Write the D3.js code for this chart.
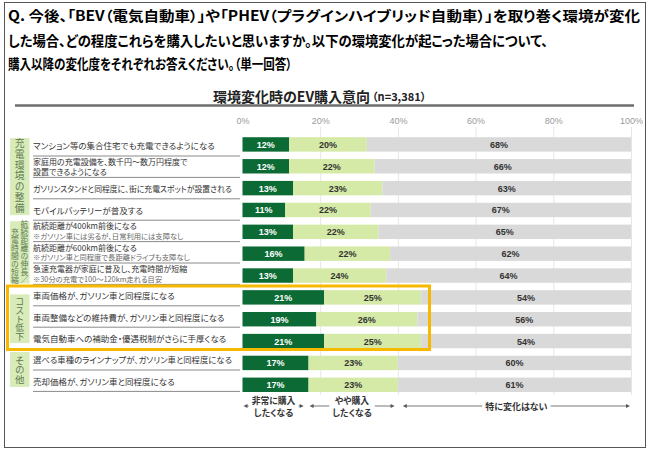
<!DOCTYPE html>
<html><head><meta charset="utf-8">
<script src="https://cdn.jsdelivr.net/npm/d3@7"></script>
<style>
body{margin:0;background:#fff}
svg text{font-family:"Noto Sans CJK JP","Noto Sans",sans-serif;font-feature-settings:"palt" 1}
svg text.num{font-family:"Liberation Sans",Arial,sans-serif;font-feature-settings:normal}
svg text.vert{writing-mode:vertical-rl;font-feature-settings:normal}
</style></head><body>
<svg id="c" width="650" height="455"></svg>
<script>
// ---------- data ----------
const questionLines = [
  "Q. 今後、「BEV（電気自動車）」や「PHEV（プラグインハイブリッド自動車）」を取り巻く環境が変化",
  "した場合、どの程度これらを購入したいと思いますか。以下の環境変化が起こった場合について、",
  "購入以降の変化度をそれぞれお答えください。（単一回答）"
];
const chartTitle = "環境変化時のEV購入意向";
const sampleNote = "（n=3,381）";
const categories = [
  ["マンション等の集合住宅でも充電できるようになる"],
  ["家庭用の充電設備を、数千円～数万円程度で","設置できるようになる"],
  ["ガソリンスタンドと同程度に、街に充電スポットが設置される"],
  ["モバイルバッテリーが普及する"],
  ["航続距離が400km前後になる","※ガソリン車には劣るが、日常利用には支障なし"],
  ["航続距離が600km前後になる","※ガソリン車と同程度で長距離ドライブも支障なし"],
  ["急速充電器が家庭に普及し、充電時間が短縮","※30分の充電で100～120km走れる目安"],
  ["車両価格が、ガソリン車と同程度になる"],
  ["車両整備などの維持費が、ガソリン車と同程度になる"],
  ["電気自動車への補助金・優遇税制がさらに手厚くなる"],
  ["選べる車種のラインナップが、ガソリン車と同程度になる"],
  ["売却価格が、ガソリン車と同程度になる"]
];
const seriesNames = ["非常に購入したくなる","やや購入したくなる","特に変化はない"];
const veryLikely     = [12,12,13,11,13,16,13,21,19,21,17,17];
const somewhatLikely = [20,22,23,22,22,22,24,25,26,25,23,23];
const noChange       = [68,66,63,67,65,62,64,54,56,54,60,61];
const groupNames = [["充電環境の整備"],["航続距離の伸長／","充電時間の短縮"],["コスト低下"],["その他"]];
const groupFirst = [0,4,7,10];
const groupLast  = [3,6,9,11];
const tickValues = [0,20,40,60,80,100];

// ---------- drawing ----------
const svg = d3.select("#c");
const C = {dark:"#0c6b35", light:"#d5eaa6", gray:"#d9d9d9", box:"#d8ebb9", orange:"#f7b900"};

// frame
svg.append("rect").attr("x",4.5).attr("y",2.5).attr("width",641).attr("height",445)
  .attr("fill","none").attr("stroke","#555").attr("stroke-width",1);

// question
const qWidths = [632,540,284];
questionLines.forEach((t,i)=>{
  svg.append("text").attr("x",8).attr("y",[15,40,63][i]).attr("dominant-baseline","central")
    .attr("font-size",14).attr("font-weight",700).attr("fill","#000")
    .attr("textLength",qWidths[i]).attr("lengthAdjust","spacingAndGlyphs").text(t);
});

// chart title
const tt = svg.append("text").attr("x",213).attr("y",96).attr("dominant-baseline","central").attr("fill","#222");
tt.append("tspan").attr("font-size",14).attr("font-weight",700).text(chartTitle);
tt.append("tspan").attr("font-size",11).attr("font-weight",700).attr("dx",2).text(sampleNote);
svg.append("line").attr("x1",15).attr("x2",634).attr("y1",105.5).attr("y2",105.5)
  .attr("stroke","#6e6e6e").attr("stroke-width",2.5);

// scales
const x = d3.scaleLinear().domain([0,100]).range([242.5,631]);
const idx = d3.range(categories.length);
const y = d3.scaleBand().domain(idx).range([133.5,395.7]).paddingInner(0.34).paddingOuter(0.17);
const yl = d3.scaleBand().domain(idx).range([134.6,391.4]);

// axis + grid
const ax = svg.append("g").attr("transform","translate(0,127)")
  .call(d3.axisTop(x).tickValues(tickValues).tickFormat(d=>d+"%").tickSize(-268).tickPadding(3.5));
ax.select(".domain").remove();
ax.selectAll(".tick line").attr("stroke","#e6e6e6").filter(d=>d===0).remove();
ax.selectAll(".tick text").attr("class","num").attr("font-size",9).attr("fill","#9a9a9a");

// bars
const rows = idx.map(i=>({i, v:[veryLikely[i],somewhatLikely[i],noChange[i]]}));
const g = svg.append("g");
rows.forEach(r=>{
  const segs = [
    {x0:0, x1:r.v[0], fill:C.dark, tc:"#fff", v:r.v[0]},
    {x0:r.v[0], x1:r.v[0]+r.v[1], fill:C.light, tc:"#333", v:r.v[1]},
    {x0:r.v[0]+r.v[1], x1:100, fill:C.gray, tc:"#333", v:r.v[2]}
  ];
  const gg = g.append("g");
  gg.selectAll("rect").data(segs).join("rect")
    .attr("x",d=>x(d.x0)).attr("width",d=>x(d.x1)-x(d.x0))
    .attr("y",y(r.i)).attr("height",y.bandwidth()).attr("fill",d=>d.fill);
  gg.selectAll("text").data(segs).join("text").attr("class","num")
    .attr("x",d=>(x(d.x0)+x(d.x1))/2).attr("y",y(r.i)+y.bandwidth()/2+0.5)
    .attr("dominant-baseline","central").attr("text-anchor","middle")
    .attr("font-size",9).attr("font-weight",700).attr("fill",d=>d.tc).text(d=>d.v+"%");
});

// left table: group boxes with vertical labels
const boxInset = [[3.5,5],[1,1],[10,5.5],[3.5,4.5]];
const vfs = [9.8,7.8,9,9.5];
const vpitch = [10.7,8.1,8.6,9.2];
groupNames.forEach((cols,gi)=>{
  const top = yl(groupFirst[gi])+boxInset[gi][0];
  const bot = yl(groupLast[gi])+yl.bandwidth()-boxInset[gi][1];
  svg.append("rect").attr("x",10).attr("y",top).attr("width",19.5).attr("height",bot-top).attr("fill",C.box);
  const fs = vfs[gi], pitch = vpitch[gi];
  const maxLen = d3.max(cols,c=>c.length);
  const blockBottom = (top+bot)/2 + maxLen*pitch/2 - (pitch-fs)/2;
  cols.forEach((col,ci)=>{
    const cx = cols.length===1 ? 19.75 : (ci===0 ? 24.5 : 15);
    svg.append("text").attr("class","vert").attr("x",cx).attr("y",blockBottom)
      .attr("text-anchor","end").attr("font-size",fs)
      .style("letter-spacing",(pitch-fs)+"px").attr("fill","#5b7a50").text(col);
  });
});

// left table: row labels and separators
const maxLabelW = 199;
idx.forEach(i=>{
  const c = yl(i)+yl.bandwidth()/2;
  const lines = categories[i];
  lines.forEach((s,k)=>{
    const sub = s.startsWith("※");
    const yy = lines.length===1 ? c : c + (k===0 ? -5 : 4.8);
    const ts = svg.append("text").attr("x",33).attr("y",yy).attr("dominant-baseline","central")
      .attr("font-size",sub?7.3:(lines.length===1?8.5:8)).attr("fill",sub?"#666":"#333").text(s);
    if (ts.node().getComputedTextLength() > maxLabelW)
      ts.attr("textLength",maxLabelW).attr("lengthAdjust","spacingAndGlyphs");
  });
  svg.append("line").attr("x1",33).attr("x2",240).attr("y1",yl(i)+yl.bandwidth()).attr("y2",yl(i)+yl.bandwidth())
    .attr("stroke","#8a8a8a").attr("stroke-width",1);
});

// highlight frame
svg.append("rect").attr("x",7.5).attr("y",286).attr("width",422).attr("height",63.5)
  .attr("fill","none").attr("stroke",C.orange).attr("stroke-width",3);

// bottom legend arrows
const legendSpans = [
  {lines:["非常に購入","したくなる"], a:0, b:16},
  {lines:["やや購入","したくなる"], a:17, b:39.4},
  {lines:["特に変化はない"], a:41, b:100}
];
const ay = 406;
legendSpans.forEach(s=>{
  const cx = (x(s.a)+x(s.b))/2;
  const two = s.lines.length>1;
  const ws = s.lines.map((line,k)=>{
    const yy = two ? (k===0 ? 400.5 : 412) : ay;
    const t = svg.append("text").attr("x",cx).attr("y",yy).attr("text-anchor","middle").attr("dominant-baseline","central")
      .attr("font-size",two?8.8:9).attr("font-weight",700).attr("fill","#333").text(line);
    return t.node().getComputedTextLength();
  });
  const w = d3.max(ws);
  const l = x(s.a)+1, r = x(s.b)-1;
  svg.append("line").attr("x1",l+3).attr("x2",cx-w/2-3).attr("y1",ay).attr("y2",ay).attr("stroke","#555").attr("stroke-width",0.8);
  svg.append("line").attr("x1",cx+w/2+3).attr("x2",r-3).attr("y1",ay).attr("y2",ay).attr("stroke","#555").attr("stroke-width",0.8);
  svg.append("path").attr("d",`M${l},${ay}L${l+4},${ay-2}L${l+4},${ay+2}Z`).attr("fill","#555");
  svg.append("path").attr("d",`M${r},${ay}L${r-4},${ay-2}L${r-4},${ay+2}Z`).attr("fill","#555");
});
</script>
</body></html>
